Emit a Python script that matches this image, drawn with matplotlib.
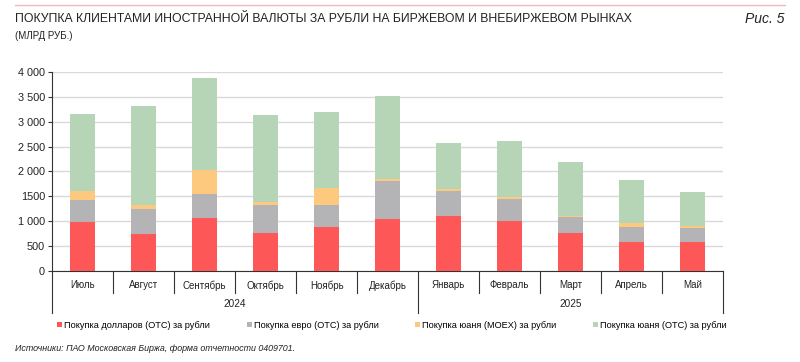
import matplotlib
matplotlib.use("Agg")
import matplotlib.pyplot as plt
import matplotlib.transforms as mtransforms
import numpy as np

plt.rcParams["font.family"] = ["Liberation Sans", "DejaVu Sans"]

months = ["Июль", "Август", "Сентябрь", "Октябрь", "Ноябрь", "Декабрь",
          "Январь", "Февраль", "Март", "Апрель", "Май"]
years = ["2024", "2025"]
year_spans = [(0, 5), (6, 10)]

usd_otc = [975, 750, 1060, 760, 890, 1045, 1110, 1000, 765, 585, 585]
eur_otc = [460, 495, 480, 560, 445, 770, 490, 455, 325, 305, 285]
cny_moex = [175, 75, 485, 65, 330, 40, 45, 40, 20, 75, 40]
cny_otc = [1540, 1995, 1850, 1745, 1530, 1670, 920, 1120, 1080, 860, 680]

series = [
    ("Покупка долларов (OTC) за рубли", usd_otc, "#fd5757"),
    ("Покупка евро (OTC) за рубли", eur_otc, "#b4b4b6"),
    ("Покупка юаня (MOEX) за рубли", cny_moex, "#fdc97e"),
    ("Покупка юаня (OTC) за рубли", cny_otc, "#b6d5b6"),
]

yticks = [0, 500, 1000, 1500, 2000, 2500, 3000, 3500, 4000]
ytick_labels = ["0", "500", "1 000", "1500", "2 000", "2 500", "3 000", "3 500", "4 000"]

fig = plt.figure(figsize=(8, 3.62), dpi=100)
ax = fig.add_axes([0.065, 0.2514, 0.839, 0.5497])

x = np.arange(len(months))
bottom = np.zeros(len(months))
for label, vals, color in series:
    ax.bar(x, vals, width=0.41, bottom=bottom, color=color, label=label, zorder=3)
    bottom += np.array(vals)

ax.set_xlim(-0.5, len(months) - 0.5)
ax.set_ylim(0, 4000)
ax.set_yticks(yticks)
ax.set_yticklabels(ytick_labels, fontsize=7.8, color="#222222")
ax.set_xticks([])
ax.grid(True, axis="y", color="#d9d9d9", lw=1.0, zorder=0)
for s in ["top", "right"]:
    ax.spines[s].set_visible(False)
for s in ["left", "bottom"]:
    ax.spines[s].set_color("#333333")
    ax.spines[s].set_linewidth(0.8)
ax.tick_params(axis="y", length=3, width=0.8, color="#333333", pad=2)

# category axis: month and year separators
trans = mtransforms.blended_transform_factory(ax.transData, ax.transAxes)
for i in range(1, len(months)):
    if i == 6:
        continue
    ax.plot([i - 0.5, i - 0.5], [0, -0.11], transform=trans, color="#333333",
            lw=0.8, clip_on=False)
for xe in [-0.5, 5.5, len(months) - 0.5]:
    ax.plot([xe, xe], [0, -0.21], transform=trans, color="#333333",
            lw=0.8, clip_on=False)
for i, m in enumerate(months):
    ax.text(i, -0.072, m, transform=trans, ha="center", va="center",
            fontsize=7, color="#222222")
for yl, (a, b) in zip(years, year_spans):
    ax.text((a + b) / 2, -0.165, yl, transform=trans, ha="center", va="center",
            fontsize=7.2, color="#222222")

fig.legend(loc="center", bbox_to_anchor=(0.49, 0.102), ncol=4, frameon=False,
           fontsize=6.6, handlelength=0.55, handleheight=0.55, handletextpad=0.2,
           columnspacing=4.0)

# header
fig.add_artist(plt.Line2D([0.019, 0.981], [0.986, 0.986], color="#f2b8bf", lw=1.0))
fig.text(0.019, 0.947, "ПОКУПКА КЛИЕНТАМИ ИНОСТРАННОЙ ВАЛЮТЫ ЗА РУБЛИ НА БИРЖЕВОМ И ВНЕБИРЖЕВОМ РЫНКАХ",
         fontsize=8.8, va="center", color="#222222")
fig.text(0.019, 0.9, "(МЛРД РУБ.)", fontsize=7, va="center", color="#222222")
fig.text(0.981, 0.947, "Рис. 5", style="italic", fontsize=10, ha="right",
         va="center", color="#222222")
fig.text(0.019, 0.036, "Источники: ПАО Московская Биржа, форма отчетности 0409701.",
         style="italic", fontsize=6.4, va="center", color="#222222")

fig.savefig("out.png", dpi=100)
